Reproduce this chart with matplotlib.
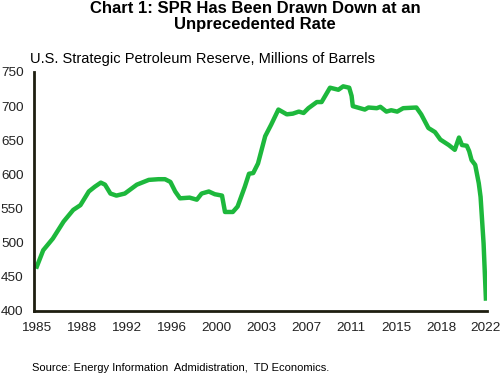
# U.S. Strategic Petroleum Reserve, millions of barrels
import matplotlib.pyplot as plt

years = [1985.0, 1985.6, 1986.4, 1987.3, 1988.1, 1988.7, 1989.4, 1989.9, 1990.4, 1990.75,
         1991.2, 1991.7, 1992.4, 1993.4, 1994.4, 1995.2, 1995.75, 1996.2, 1996.6, 1997.0,
         1997.8, 1998.4, 1998.8, 1999.4, 1999.9, 2000.5, 2000.75, 2001.4, 2001.8, 2002.4,
         2002.75, 2003.1, 2003.5, 2003.8, 2004.1, 2004.6, 2005.2, 2005.5, 2005.9, 2006.4,
         2006.9, 2007.3, 2007.7, 2008.4, 2008.8, 2009.1, 2009.5, 2010.2, 2010.6, 2011.1,
         2011.3, 2011.4, 2012.0, 2012.4, 2012.7, 2013.4, 2013.7, 2014.2, 2014.6, 2015.1,
         2015.6, 2016.7, 2017.1, 2017.7, 2018.25, 2018.7, 2019.4, 2019.9, 2020.25, 2020.5,
         2020.9, 2021.1, 2021.3, 2021.6, 2021.9, 2022.05, 2022.3, 2022.5]
barrels = [462, 489, 506, 531, 548, 555, 575, 582, 588, 585,
           572, 569, 572, 585, 592, 593, 593, 589, 575, 565,
           566, 563, 572, 575, 571, 569, 545, 545, 553, 582,
           601, 602, 616, 636, 656, 673, 695, 692, 688, 689,
           692, 690, 697, 706, 706, 715, 727, 724, 729, 727,
           715, 700, 697, 695, 698, 697, 699, 692, 694, 692,
           697, 698, 688, 668, 662, 651, 643, 636, 654, 643,
           642, 634, 621, 614, 587, 567, 499, 415]

tick_years = [1985 + 3.75 * i for i in range(11)]
tick_labels = ['1985', '1988', '1992', '1996', '2000', '2003', '2007', '2011', '2015', '2018', '2022']

plt.rcParams['font.family'] = ['Liberation Sans', 'DejaVu Sans']

fig = plt.figure(figsize=(5.02, 3.75), dpi=100)
ax = fig.add_axes([0.0677, 0.1707, 0.9023, 0.6373])

ax.plot(years, barrels, color='#1db83c', lw=3.2, solid_capstyle='butt')

# axes styling
ax.set_xlim(1984.83, 2022.58)
ax.set_ylim(400, 750)
ax.set_yticks(range(400, 751, 50))
ax.set_xticks(tick_years)
ax.set_xticklabels(tick_labels)
ax.tick_params(length=0, labelsize=9.7, colors='#222222')
ax.tick_params(axis='x', pad=8)
ax.tick_params(axis='y', pad=7.5)
for s in ['top', 'right']:
    ax.spines[s].set_visible(False)
for s in ['left', 'bottom']:
    ax.spines[s].set_color('#1e1e10')
    ax.spines[s].set_linewidth(2)

# texts
fig.text(0.508, 0.997, 'Chart 1: SPR Has Been Drawn Down at an\nUnprecedented Rate',
         ha='center', va='top', fontsize=12, fontweight='bold', linespacing=1.1)
fig.text(0.06, 0.844, 'U.S. Strategic Petroleum Reserve, Millions of Barrels',
         ha='left', va='center', fontsize=10.5)
fig.text(0.064, 0.019, 'Source: Energy Information  Admidistration,  TD Economics.',
         ha='left', va='center', fontsize=8)

fig.savefig('out.png', dpi=100)
